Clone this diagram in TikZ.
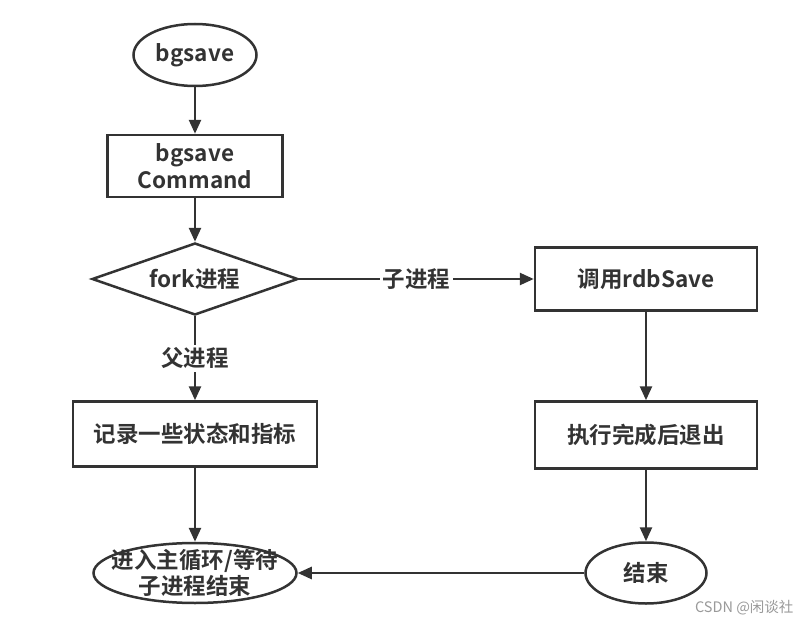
\documentclass[tikz,border=0pt]{standalone}
\usepackage{fontspec}
\usetikzlibrary{shapes.geometric,arrows.meta}
\newfontfamily\cjk{Noto Sans CJK SC}[BoldFont={Noto Sans CJK SC Bold}]
\definecolor{linec}{HTML}{333333}
\definecolor{markc}{HTML}{9A9A9A}
\tikzset{
  conn/.style={draw=linec, line width=2.5pt},
  arr/.style={conn, -{Triangle[length=14pt,width=12pt]}},
  termin/.style={ellipse, draw=linec, line width=2.5pt, inner sep=0pt, fill=white},
  procbox/.style={rectangle, draw=linec, line width=2.5pt, inner sep=0pt, align=center, fill=white},
  decide/.style={diamond, draw=linec, line width=2.5pt, inner sep=0pt, aspect=2.86, fill=white},
  edgetext/.style={fill=white, inner sep=3pt}
}
\begin{document}
\begin{tikzpicture}[x=1pt,y=-1pt,every node/.style={font=\cjk\bfseries\fontsize{22.5}{27}\selectfont, text=linec}]
\useasboundingbox[fill=white] (0,0) rectangle (812,626);
\node[termin, minimum width=123pt, minimum height=62pt] (bgs) at (195,55) {bgsave};
\node[procbox, minimum width=175pt, minimum height=62pt] (cmd) at (195,166) {bgsave\\Command};
\node[decide, minimum width=206pt, minimum height=72pt] (fork) at (195,279) {fork进程};
\node[procbox, minimum width=222pt, minimum height=63pt] (rdb) at (646,279) {调用rdbSave};
\node[procbox, minimum width=222pt, minimum height=67pt] (quit) at (646,435) {执行完成后退出};
\node[termin, minimum width=121pt, minimum height=61pt] (fin) at (646,573) {结束};
\node[procbox, minimum width=244pt, minimum height=65pt] (rec) at (195,434) {记录一些状态和指标};
\node[termin, minimum width=203pt, minimum height=60pt,
  label={[align=center, font=\cjk\bfseries\fontsize{22.5}{26}\selectfont]center:进入主循环/等待\\子进程结束}] (wait) at (195,573) {};
\node[font=\cjk\fontsize{14.5}{16}\selectfont, text=markc, anchor=east] (mark) at (797,608) {CSDN @闲谈社};
\draw[arr] (bgs) -- (cmd);
\draw[arr] (cmd) -- (fork);
\draw[arr] (fork) -- node[edgetext] (child) {子进程} (rdb);
\draw[arr] (fork) -- node[edgetext] (parent) {父进程} (rec);
\draw[arr] (rdb) -- (quit);
\draw[arr] (quit) -- (fin);
\draw[arr] (rec) -- (wait);
\draw[arr] (fin) -- (wait);
\end{tikzpicture}
\end{document}
